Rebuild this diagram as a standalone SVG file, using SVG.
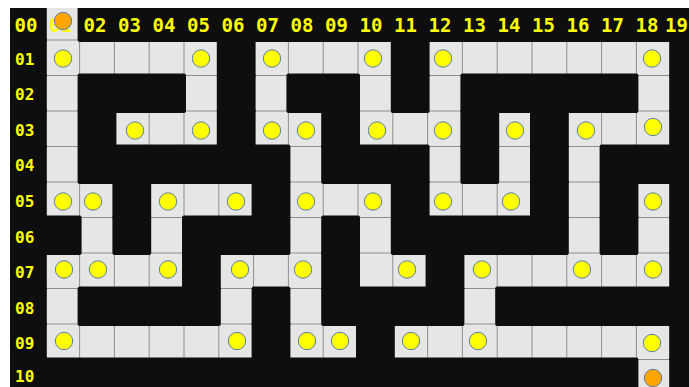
<svg xmlns="http://www.w3.org/2000/svg" width="689" height="387" viewBox="0 0 689 387">
<style>
.blk{fill:#0e0e0e;stroke:#0e0e0e;stroke-width:4;stroke-linejoin:round}
.grid{stroke:#8e8e8e;stroke-width:1;fill:none}
.cl{font-family:"DejaVu Sans Mono","Liberation Mono",monospace;font-weight:bold;font-size:19px;fill:#ffff00;text-anchor:middle}
.rl{font-family:"DejaVu Sans Mono","Liberation Mono",monospace;font-weight:bold;font-size:16px;fill:#ffff00}
.d{fill:#ffff00;stroke:#5b7fa6;stroke-width:1}
.o{fill:#ffa500;stroke:#5b7fa6;stroke-width:1}
</style>
<rect x="0" y="0" width="689" height="387" fill="#ffffff"/>
<g id="maze">
<rect x="10" y="8" width="679" height="379" fill="#e6e6e6"/>
<path class="grid" d="M44.8 8V387M79.6 8V387M114.4 8V387M149.2 8V387M184 8V387M218.8 8V387M253.6 8V387M288.4 8V387M323.2 8V387M358 8V387M392.8 8V387M427.6 8V387M462.4 8V387M497.2 8V387M532 8V387M566.8 8V387M601.6 8V387M636.4 8V387M671.2 8V387M10 40H689M10 75.5H689M10 111H689M10 146.5H689M10 182H689M10 217.5H689M10 253H689M10 288.5H689M10 324H689M10 359.5H689"/>
<!-- row 00 -->
<rect class="blk" x="10" y="8" width="34.8" height="32"/>
<rect class="blk" x="79.6" y="8" width="626.4" height="32"/>
<!-- row 01 -->
<rect class="blk" x="10" y="40" width="34.8" height="35.5"/>
<rect class="blk" x="218.8" y="40" width="34.8" height="35.5"/>
<rect class="blk" x="392.8" y="40" width="34.8" height="35.5"/>
<rect class="blk" x="671.2" y="40" width="34.8" height="35.5"/>
<!-- row 02 -->
<rect class="blk" x="10" y="75.5" width="34.8" height="35.5"/>
<rect class="blk" x="79.6" y="75.5" width="104.4" height="35.5"/>
<rect class="blk" x="218.8" y="75.5" width="34.8" height="35.5"/>
<rect class="blk" x="288.4" y="75.5" width="69.6" height="35.5"/>
<rect class="blk" x="392.8" y="75.5" width="34.8" height="35.5"/>
<rect class="blk" x="462.4" y="75.5" width="174" height="35.5"/>
<rect class="blk" x="671.2" y="75.5" width="34.8" height="35.5"/>
<!-- row 03 -->
<rect class="blk" x="10" y="111" width="34.8" height="35.5"/>
<rect class="blk" x="79.6" y="111" width="34.8" height="35.5"/>
<rect class="blk" x="218.8" y="111" width="34.8" height="35.5"/>
<rect class="blk" x="323.2" y="111" width="34.8" height="35.5"/>
<rect class="blk" x="462.4" y="111" width="34.8" height="35.5"/>
<rect class="blk" x="532" y="111" width="34.8" height="35.5"/>
<rect class="blk" x="671.2" y="111" width="34.8" height="35.5"/>
<!-- row 04 -->
<rect class="blk" x="10" y="146.5" width="34.8" height="35.5"/>
<rect class="blk" x="79.6" y="146.5" width="208.8" height="35.5"/>
<rect class="blk" x="323.2" y="146.5" width="104.4" height="35.5"/>
<rect class="blk" x="462.4" y="146.5" width="34.8" height="35.5"/>
<rect class="blk" x="532" y="146.5" width="34.8" height="35.5"/>
<rect class="blk" x="601.6" y="146.5" width="104.4" height="35.5"/>
<!-- row 05 -->
<rect class="blk" x="10" y="182" width="34.8" height="35.5"/>
<rect class="blk" x="114.4" y="182" width="34.8" height="35.5"/>
<rect class="blk" x="253.6" y="182" width="34.8" height="35.5"/>
<rect class="blk" x="392.8" y="182" width="34.8" height="35.5"/>
<rect class="blk" x="532" y="182" width="34.8" height="35.5"/>
<rect class="blk" x="601.6" y="182" width="34.8" height="35.5"/>
<rect class="blk" x="671.2" y="182" width="34.8" height="35.5"/>
<!-- row 06 -->
<rect class="blk" x="10" y="217.5" width="69.6" height="35.5"/>
<rect class="blk" x="114.4" y="217.5" width="34.8" height="35.5"/>
<rect class="blk" x="184" y="217.5" width="104.4" height="35.5"/>
<rect class="blk" x="323.2" y="217.5" width="34.8" height="35.5"/>
<rect class="blk" x="392.8" y="217.5" width="174" height="35.5"/>
<rect class="blk" x="601.6" y="217.5" width="34.8" height="35.5"/>
<rect class="blk" x="671.2" y="217.5" width="34.8" height="35.5"/>
<!-- row 07 -->
<rect class="blk" x="10" y="253" width="34.8" height="35.5"/>
<rect class="blk" x="184" y="253" width="34.8" height="35.5"/>
<rect class="blk" x="323.2" y="253" width="34.8" height="35.5"/>
<rect class="blk" x="427.6" y="253" width="34.8" height="35.5"/>
<rect class="blk" x="671.2" y="253" width="34.8" height="35.5"/>
<!-- row 08 -->
<rect class="blk" x="10" y="288.5" width="34.8" height="35.5"/>
<rect class="blk" x="79.6" y="288.5" width="139.2" height="35.5"/>
<rect class="blk" x="253.6" y="288.5" width="34.8" height="35.5"/>
<rect class="blk" x="323.2" y="288.5" width="139.2" height="35.5"/>
<rect class="blk" x="497.2" y="288.5" width="208.8" height="35.5"/>
<!-- row 09 -->
<rect class="blk" x="10" y="324" width="34.8" height="35.5"/>
<rect class="blk" x="253.6" y="324" width="34.8" height="35.5"/>
<rect class="blk" x="358" y="324" width="34.8" height="35.5"/>
<rect class="blk" x="671.2" y="324" width="34.8" height="35.5"/>
<!-- row 10 -->
<rect class="blk" x="10" y="359.5" width="626.4" height="35.5"/>
<rect class="blk" x="671.2" y="359.5" width="34.8" height="35.5"/>
<rect x="0" y="0" width="689" height="8" fill="#ffffff"/>
<rect x="0" y="0" width="10" height="387" fill="#ffffff"/>
</g>
<g id="col-labels">
<text class="cl" x="26" y="32">00</text>
<text class="cl" x="60.5" y="32">01</text>
<text class="cl" x="95" y="32">02</text>
<text class="cl" x="129.5" y="32">03</text>
<text class="cl" x="164" y="32">04</text>
<text class="cl" x="198.5" y="32">05</text>
<text class="cl" x="233" y="32">06</text>
<text class="cl" x="267.5" y="32">07</text>
<text class="cl" x="302" y="32">08</text>
<text class="cl" x="336.5" y="32">09</text>
<text class="cl" x="371" y="32">10</text>
<text class="cl" x="405.5" y="32">11</text>
<text class="cl" x="440" y="32">12</text>
<text class="cl" x="474.5" y="32">13</text>
<text class="cl" x="509" y="32">14</text>
<text class="cl" x="543.5" y="32">15</text>
<text class="cl" x="578" y="32">16</text>
<text class="cl" x="612.5" y="32">17</text>
<text class="cl" x="647" y="32">18</text>
<text class="cl" x="676.5" y="32">19</text>
</g>
<g id="row-labels">
<text class="rl" x="15" y="64.5">01</text>
<text class="rl" x="15" y="100.1">02</text>
<text class="rl" x="15" y="135.7">03</text>
<text class="rl" x="15" y="171.3">04</text>
<text class="rl" x="15" y="207">05</text>
<text class="rl" x="15" y="242.5">06</text>
<text class="rl" x="15" y="278.1">07</text>
<text class="rl" x="15" y="313.7">08</text>
<text class="rl" x="15" y="349.3">09</text>
<text class="rl" x="15" y="382">10</text>
</g>
<g id="dots">
<circle class="o" cx="63" cy="21" r="8.7"/>
<circle class="o" cx="653" cy="378" r="8.7"/>
<circle class="d" cx="63" cy="58.5" r="8.7"/>
<circle class="d" cx="201" cy="58.5" r="8.7"/>
<circle class="d" cx="272" cy="58.5" r="8.7"/>
<circle class="d" cx="373" cy="58.5" r="8.7"/>
<circle class="d" cx="443" cy="58.5" r="8.7"/>
<circle class="d" cx="652" cy="58.5" r="8.7"/>
<circle class="d" cx="135" cy="130.5" r="8.7"/>
<circle class="d" cx="201" cy="130.5" r="8.7"/>
<circle class="d" cx="272" cy="130.5" r="8.7"/>
<circle class="d" cx="306" cy="130.5" r="8.7"/>
<circle class="d" cx="377" cy="130.5" r="8.7"/>
<circle class="d" cx="443" cy="130.5" r="8.7"/>
<circle class="d" cx="515" cy="130.5" r="8.7"/>
<circle class="d" cx="586" cy="130.5" r="8.7"/>
<circle class="d" cx="653" cy="127" r="8.7"/>
<circle class="d" cx="63" cy="201.5" r="8.7"/>
<circle class="d" cx="93" cy="201.5" r="8.7"/>
<circle class="d" cx="168" cy="201.5" r="8.7"/>
<circle class="d" cx="236" cy="201.5" r="8.7"/>
<circle class="d" cx="306" cy="201.5" r="8.7"/>
<circle class="d" cx="373" cy="201.5" r="8.7"/>
<circle class="d" cx="443" cy="201.5" r="8.7"/>
<circle class="d" cx="511" cy="201.5" r="8.7"/>
<circle class="d" cx="653" cy="201.5" r="8.7"/>
<circle class="d" cx="64" cy="269.5" r="8.7"/>
<circle class="d" cx="98" cy="269.5" r="8.7"/>
<circle class="d" cx="168" cy="269.5" r="8.7"/>
<circle class="d" cx="240" cy="269.5" r="8.7"/>
<circle class="d" cx="303" cy="269.5" r="8.7"/>
<circle class="d" cx="407" cy="269.5" r="8.7"/>
<circle class="d" cx="482" cy="269.5" r="8.7"/>
<circle class="d" cx="582" cy="269.5" r="8.7"/>
<circle class="d" cx="653" cy="269.5" r="8.7"/>
<circle class="d" cx="64" cy="341" r="8.7"/>
<circle class="d" cx="237" cy="341" r="8.7"/>
<circle class="d" cx="307" cy="341" r="8.7"/>
<circle class="d" cx="340" cy="341" r="8.7"/>
<circle class="d" cx="411" cy="341" r="8.7"/>
<circle class="d" cx="478" cy="341" r="8.7"/>
<circle class="d" cx="652" cy="343" r="8.7"/>
</g>
</svg>
